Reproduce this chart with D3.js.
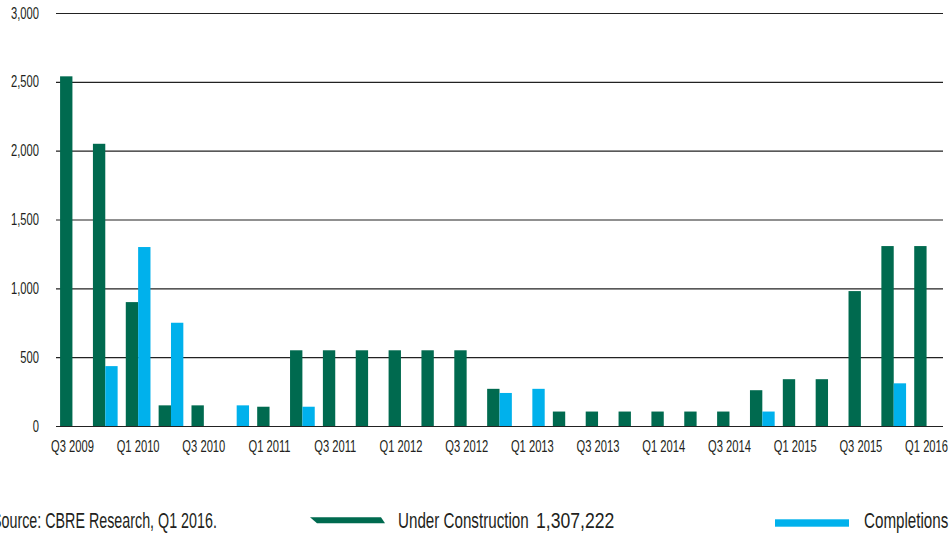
<!DOCTYPE html>
<html>
<head>
<meta charset="utf-8">
<script src="https://cdn.jsdelivr.net/npm/d3@7"></script>
<style>
body{margin:0;background:#fff;}
svg text{font-family:"Liberation Sans",Arial,sans-serif;fill:#231f20;}
</style>
</head>
<body>
<svg id="chart"></svg>
<script>
//quarters on the x axis
var quarters=["Q3 2009","Q4 2009","Q1 2010","Q2 2010","Q3 2010","Q4 2010","Q1 2011","Q2 2011","Q3 2011","Q4 2011","Q1 2012","Q2 2012","Q3 2012","Q4 2012","Q1 2013","Q2 2013","Q3 2013","Q4 2013","Q1 2014","Q2 2014","Q3 2014","Q4 2014","Q1 2015","Q2 2015","Q3 2015","Q4 2015","Q1 2016"]
var underConstruction=[2540,2050,900,150,150,0,140,550,550,550,550,550,550,270,0,105,105,105,105,105,105,260,340,340,980,1307,1307]
var completions=[0,435,1300,750,0,150,0,140,0,0,0,0,0,240,270,0,0,0,0,0,0,105,0,0,0,310,0]
var tickLabels=["Q3 2009","Q1 2010","Q3 2010","Q1 2011","Q3 2011","Q1 2012","Q3 2012","Q1 2013","Q3 2013","Q1 2014","Q3 2014","Q1 2015","Q3 2015","Q1 2016"]
var yTicks=[0,500,1000,1500,2000,2500,3000]
var seriesNames=["Under Construction","Completions"]
var colors={"Under Construction":"#006a4f","Completions":"#00b1ec"}

var screen={width:952,height:535}
var margins={left:56,right:9,top:13,bottom:109}
//no condensed font installed, so squeeze the text sideways
var axisSqueeze=0.7

var svg=d3.select("#chart")
    .attr("width",screen.width)
    .attr("height",screen.height)

var xScale=d3.scaleBand()
    .domain(quarters)
    .range([margins.left,screen.width-margins.right])
var xInner=d3.scaleBand()
    .domain(seriesNames)
    .range([0,xScale.bandwidth()])
    .paddingOuter(0.33)
var yScale=d3.scaleLinear()
    .domain([0,3000])
    .range([screen.height-margins.bottom,margins.top])

//gridlines + y labels
var yAxis=svg.append("g")
    .attr("transform","translate("+margins.left+",0)")
    .call(d3.axisLeft(yScale).tickValues(yTicks)
        .tickSize(-(screen.width-margins.left-margins.right))
        .tickFormat(d3.format(",")))
yAxis.select(".domain").remove()
yAxis.selectAll("line").attr("stroke","#222").attr("stroke-width",1.2)
yAxis.selectAll("text")
    .attr("font-size",16)
    .style("font-family",null)
    .attr("x",-17/axisSqueeze)
    .attr("transform","scale("+axisSqueeze+",1)")

var rows=quarters.map(function(q,i){
    return {q:q,values:[
        {name:"Under Construction",value:underConstruction[i]},
        {name:"Completions",value:completions[i]}]}
})

svg.append("g").selectAll("g")
    .data(rows)
    .enter()
    .append("g")
    .attr("transform",function(d){return "translate("+xScale(d.q)+",0)"})
    .selectAll("rect")
    .data(function(d){return d.values.filter(function(v){return v.value>0})})
    .enter()
    .append("rect")
    .attr("x",function(v){return xInner(v.name)})
    .attr("width",xInner.bandwidth())
    .attr("y",function(v){return yScale(v.value)})
    .attr("height",function(v){return yScale(0)-yScale(v.value)})
    .attr("fill",function(v){return colors[v.name]})

//x labels
var xAxis=svg.append("g")
    .attr("transform","translate(0,"+yScale(0)+")")
    .call(d3.axisBottom(xScale).tickValues(tickLabels).tickSize(0).tickPadding(15))
xAxis.select(".domain").remove()
xAxis.selectAll("text")
    .attr("font-size",16)
    .style("font-family",null)
    .attr("transform","scale("+axisSqueeze+",1)")

//source + legend
var legendY=528
var addText=function(x,txt,squeeze){
    return svg.append("text")
        .attr("x",x/squeeze)
        .attr("y",legendY)
        .attr("font-size",22)
        .attr("transform","scale("+squeeze+",1)")
        .text(txt)
}
addText(-8,"Source: CBRE Research, Q1 2016.",0.65)

svg.append("path")
    .attr("d","M310,517.3L381,517.3L385,523.3L317,523.3Z")
    .attr("fill",colors["Under Construction"])
addText(398,"Under Construction",0.69)
addText(536,"1,307,222",0.8)

svg.append("rect")
    .attr("x",775)
    .attr("y",519.3)
    .attr("width",74)
    .attr("height",7.4)
    .attr("fill",colors["Completions"])
addText(864,"Completions",0.69)
</script>
</body>
</html>
